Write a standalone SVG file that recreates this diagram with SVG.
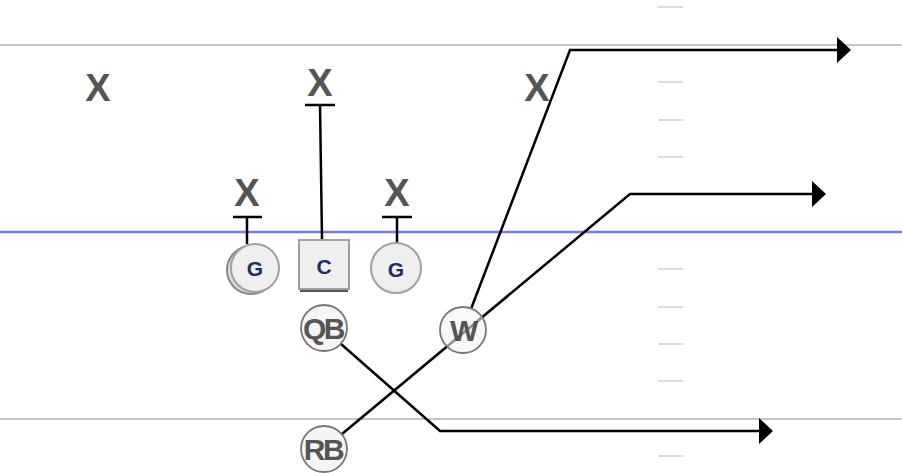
<svg xmlns="http://www.w3.org/2000/svg" width="902" height="473" viewBox="0 0 902 473">
<style>
.field{stroke:#c4c4c4;stroke-width:2}
.los{stroke:#7777f0;stroke-width:2.5}
.hash{stroke:#dcdcdc;stroke-width:2}
.x{font-family:"Liberation Sans",Arial,sans-serif;font-weight:bold;font-size:38px;fill:#555;text-anchor:middle}
.ol{fill:#efefef;stroke:#a0a0a0;stroke-width:2}
.ollbl{font-family:"Liberation Sans",Arial,sans-serif;font-weight:bold;font-size:21px;fill:#1a2d66;text-anchor:middle}
.sk{fill:#f4f4f4;stroke:#777;stroke-width:1.8}
.sklbl{font-family:"Liberation Sans",Arial,sans-serif;font-weight:bold;font-size:30px;fill:#555;text-anchor:middle;letter-spacing:-2.5px}
.rt{fill:none;stroke:#000;stroke-width:2.5}
.blk{fill:none;stroke:#000;stroke-width:2.5}
</style>
<defs>
<marker id="ah" markerUnits="userSpaceOnUse" markerWidth="14" markerHeight="26" refX="1" refY="13" orient="auto" viewBox="0 0 14 26">
<path d="M0,0 L14,13 L0,26 Z" fill="#000"/>
</marker>
</defs>
<rect width="902" height="473" fill="#fff"/>
<g id="field">
<line class="field" x1="0" y1="45" x2="902" y2="45"/>
<line class="field" x1="0" y1="419" x2="902" y2="419"/>
<line class="los" x1="0" y1="232" x2="902" y2="232"/>
<g class="hash">
<line x1="658" y1="7" x2="683" y2="7"/>
<line x1="658" y1="82" x2="683" y2="82"/>
<line x1="658" y1="120" x2="683" y2="120"/>
<line x1="658" y1="157" x2="683" y2="157"/>
<line x1="658" y1="269" x2="683" y2="269"/>
<line x1="658" y1="307" x2="683" y2="307"/>
<line x1="658" y1="344" x2="683" y2="344"/>
<line x1="658" y1="381" x2="683" y2="381"/>
<line x1="658" y1="456" x2="683" y2="456"/>
</g>
</g>
<g id="defense">
<text id="x1" class="x" x="98" y="101">X</text>
<text id="x2" class="x" x="320" y="96">X</text>
<text id="x3" class="x" x="537" y="101">X</text>
<text id="x4" class="x" x="247" y="206">X</text>
<text id="x5" class="x" x="397" y="206">X</text>
</g>
<g id="connectors">
<path class="blk" d="M233,217 H262 M247,217 V244"/>
<path class="blk" d="M382,217 H412 M397,217 V244"/>
<path class="blk" d="M305,105 H335 M320,105 L322,239"/>
<path class="rt" d="M341,344 L440,431 H760" marker-end="url(#ah)"/>
<path class="rt" d="M342,434 L630,194 H813" marker-end="url(#ah)"/>
<path class="rt" d="M471,309 L570,50 H838" marker-end="url(#ah)"/>
</g>
<g id="lg">
<circle cx="251" cy="270" r="24" fill="#ddd" stroke="#888" stroke-width="2"/>
<circle class="ol" cx="255" cy="268" r="24"/>
<text class="ollbl" x="255" y="276">G</text>
</g>
<g id="c">
<line x1="300" y1="291" x2="348" y2="291" stroke="#555" stroke-width="2"/>
<rect class="ol" x="299" y="240" width="50" height="49"/>
<text class="ollbl" x="324" y="274">C</text>
</g>
<g id="rg">
<circle class="ol" cx="396" cy="268" r="25"/>
<text class="ollbl" x="396" y="277">G</text>
</g>
<g id="qb">
<circle class="sk" cx="324" cy="328" r="23" fill-opacity="0.9"/>
<text class="sklbl" x="323" y="339">QB</text>
</g>
<g id="w">
<circle class="sk" cx="463" cy="330" r="23" fill-opacity="0.6"/>
<text class="sklbl" x="463" y="341">W</text>
</g>
<g id="rb">
<circle class="sk" cx="324" cy="449" r="23" fill-opacity="0.9"/>
<text class="sklbl" x="323" y="460">RB</text>
</g>
</svg>
